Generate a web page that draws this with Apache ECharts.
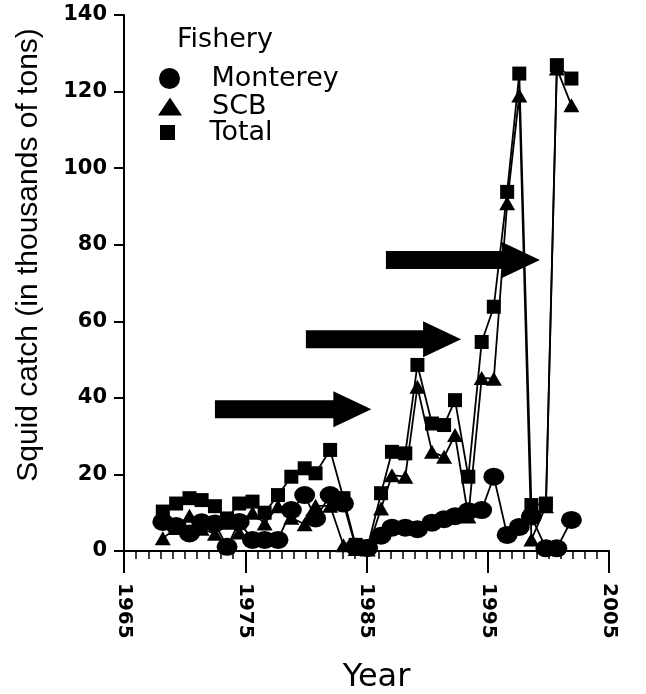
<!DOCTYPE html>
<html><head><meta charset="utf-8">
<script src="https://cdn.jsdelivr.net/npm/echarts@6/dist/echarts.min.js"></script>
<style>html,body{margin:0;padding:0;background:#fff}#c{width:646px;height:694px}</style>
</head><body><div id="c"></div>
<script>
// x positions (years)
const years = [1968.2,1969.3,1970.4,1971.4,1972.5,1973.5,1974.5,1975.6,1976.6,1977.7,1978.8,1979.9,1980.8,1982.0,1983.1,1984.1,1985.1,1986.2,1987.1,1988.2,1989.2,1990.4,1991.4,1992.3,1993.4,1994.5,1995.5,1996.6,1997.6,1998.6,1999.8,2000.7,2001.9];
const monterey = [7.6,6.5,4.6,7.5,7.2,1.1,7.6,2.9,2.9,2.9,10.7,14.6,8.5,14.6,12.4,1.1,0.8,4.0,6.1,6.1,5.7,7.4,8.3,9.1,10.4,10.7,19.4,4.2,6.3,9.0,0.7,0.7,8.1];
const scb = [3.3,6.0,9.2,5.8,4.5,7.4,4.8,10.0,7.2,11.7,8.7,7.0,11.8,11.8,1.5,0.5,0.4,11.1,19.8,19.4,42.9,25.9,24.6,30.3,9.0,45.2,45.0,90.8,119.0,3.0,11.7,126.0,116.4];
const total = [10.3,12.4,13.8,13.3,11.7,8.5,12.4,12.9,10.0,14.6,19.4,21.6,20.3,26.4,13.8,1.6,1.2,15.1,25.9,25.5,48.6,33.3,32.9,39.4,19.4,54.6,63.8,93.8,124.7,12.0,12.4,126.9,123.4];
const xTickLabels = [1965,1975,1985,1995,2005];
const yTickLabels = [0,20,40,60,80,100,120,140];
// annotation arrows: [startYear, endYear, value]
const arrows = [[1972.5,1985.4,37.0],[1980.0,1992.8,55.3],[1986.6,1999.3,76.0]];
const seriesNames = ['Monterey','SCB','Total'];

const BASE = xTickLabels[0];
const FONT = 'DejaVu Sans';
const chart = echarts.init(document.getElementById('c'), null, {renderer:'canvas'});

function pts(vals){ return years.map((y,i)=>[y-BASE, vals[i]]); }

const lineStyle = {color:'#000', width:1.8};
const itemStyle = {color:'#000'};

function legendFor(name, icon, w, h, left, top){
  return {
    orient:'vertical', left:left, top:top, itemWidth:w, itemHeight:h, itemGap:0,
    symbolKeepAspect:true,
    textStyle:{fontFamily:FONT, fontSize:27, color:'#000'},
    data:[{name:name, icon:icon, itemStyle:{color:'#000'}}],
    selectedMode:false
  };
}

const option = {
  backgroundColor:'#fff',
  animation:false,
  title:{text:'Fishery', left:172, top:21, textStyle:{fontFamily:FONT, fontSize:27, fontWeight:'normal', color:'#000'}},
  legend:[
    legendFor(seriesNames[0], 'circle', 74, 21, 154, 60),
    legendFor(seriesNames[1], 'path://M5,0L10,7.5L0,7.5Z', 74, 18, 153, 88),
    legendFor(seriesNames[2], 'path://M0,0L10,0L10,10L0,10Z', 74, 15, 155, 114)
  ],
  grid:{left:124, right:37, top:15, bottom:143, containLabel:false, outerBoundsMode:'none'},
  xAxis:{
    type:'value', min:0, max:xTickLabels[xTickLabels.length-1]-BASE, interval:10,
    name:'Year', nameLocation:'middle', nameGap:111,
    nameTextStyle:{fontFamily:FONT, fontSize:32, color:'#000', padding:[0,0,0,20]},
    axisLine:{lineStyle:{color:'#000', width:2}},
    axisTick:{show:true, length:22, lineStyle:{color:'#000', width:2}},
    minorTick:{show:true, splitNumber:10, length:8, lineStyle:{color:'#000', width:1.5}},
    splitLine:{show:false},
    axisLabel:{rotate:-90, margin:32, fontFamily:FONT, fontSize:20, fontWeight:'bold', color:'#000',
      formatter:v=>String(v+BASE)}
  },
  yAxis:{
    type:'value', min:yTickLabels[0], max:yTickLabels[yTickLabels.length-1], interval:20,
    name:'Squid catch (in thousands of tons)', nameLocation:'middle', nameGap:80, nameRotate:90,
    nameTextStyle:{fontFamily:'Liberation Sans', fontSize:30, color:'#000', padding:[0,0,0,56]},
    axisLine:{lineStyle:{color:'#000', width:2}},
    axisTick:{show:true, length:10, lineStyle:{color:'#000', width:2}},
    splitLine:{show:false},
    axisLabel:{margin:17, fontFamily:FONT, fontSize:21, fontWeight:'bold', color:'#000'}
  },
  series:[
    {name:seriesNames[0], type:'line', data:pts(monterey), symbol:'circle', symbolSize:[21,18],
     lineStyle, itemStyle, z:3},
    {name:seriesNames[1], type:'line', data:pts(scb), symbol:'triangle', symbolSize:[16,14],
     lineStyle, itemStyle, z:4},
    {name:seriesNames[2], type:'line', data:pts(total), symbol:'rect', symbolSize:[14,14],
     lineStyle, itemStyle, z:5}
  ]
};
chart.setOption(option);

// arrows drawn from data coordinates
const g = arrows.map(a=>{
  const p0 = chart.convertToPixel({gridIndex:0}, [a[0]-BASE, a[2]]);
  const p1 = chart.convertToPixel({gridIndex:0}, [a[1]-BASE, a[2]]);
  const x0=p0[0], x1=p1[0], y=p0[1];
  const hl=38, bh=9, hh=18;
  return {type:'polygon', z:10, shape:{points:[[x0,y-bh],[x1-hl,y-bh],[x1-hl,y-hh],[x1,y],[x1-hl,y+hh],[x1-hl,y+bh],[x0,y+bh]]}, style:{fill:'#000'}};
});
chart.setOption({graphic:g});
</script></body></html>
